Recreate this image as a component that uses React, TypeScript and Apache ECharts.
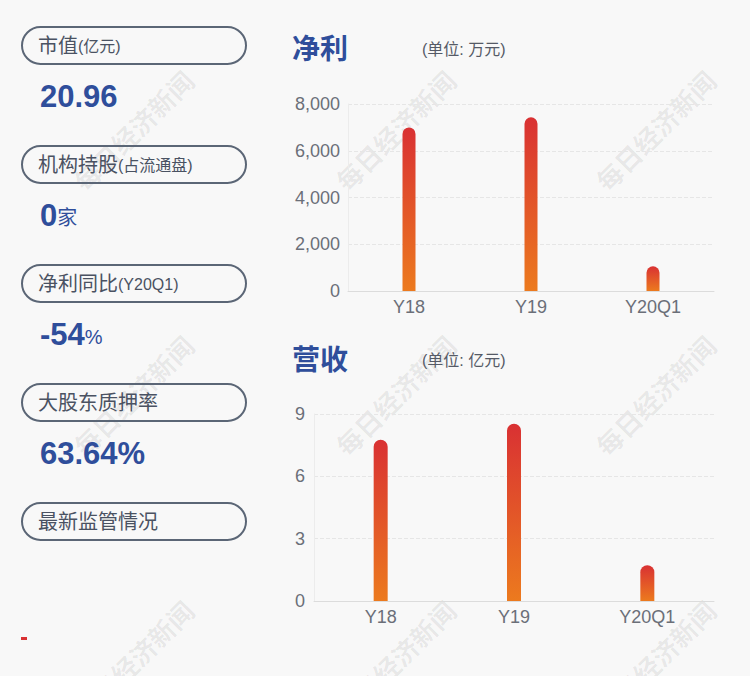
import React, { useEffect, useRef } from "react";
import * as echarts from "echarts";

const categories = ["Y18", "Y19", "Y20Q1"];
const profitValues = [7000, 7430, 1060];
const revenueValues = [7.76, 8.53, 1.72];
const profitTicks = { min: 0, max: 8000, interval: 2000 };
const revenueTicks = { min: 0, max: 9, interval: 3 };

const boxLabels = [
  { main: "市值", sub: "(亿元)" },
  { main: "机构持股", sub: "(占流通盘)" },
  { main: "净利同比", sub: "(Y20Q1)" },
  { main: "大股东质押率", sub: "" },
  { main: "最新监管情况", sub: "" },
];
const boxValues = [
  { big: "20.96", small: "" },
  { big: "0", small: "家" },
  { big: "-54", small: "%" },
  { big: "63.64%", small: "" },
];

const FONT = "'Liberation Sans', 'Noto Sans CJK SC', sans-serif";
const BLUE = "#2f4e9b";

export default function App() {
  const ref = useRef<HTMLDivElement>(null);
  useEffect(() => {
    if (!ref.current) return;
    const chart = echarts.init(ref.current, null, { renderer: "svg" });
    const barColor = new echarts.graphic.LinearGradient(0, 0, 0, 1, [
      { offset: 0, color: "#d93133" },
      { offset: 1, color: "#ec7a1e" },
    ]);
    const graphics: any[] = [];
    // watermarks
    const wmX = [133, 395, 655];
    const wmY = [130, 395, 660];
    wmY.forEach((y) =>
      wmX.forEach((x) => {
        graphics.push({
          type: "text",
          x,
          y,
          rotation: Math.PI / 4,
          z: 0,
          style: {
            text: "每日经济新闻",
            font: `bold 26px 'Noto Sans CJK SC'`,
            fill: "rgba(0,0,0,0.07)",
            align: "center",
            verticalAlign: "middle",
          },
        });
      })
    );
    const boxTop = [27, 146, 265, 384, 503];
    boxLabels.forEach((b, i) => {
      graphics.push({
        type: "rect",
        shape: { x: 22, y: boxTop[i], width: 224, height: 37, r: 18.5 },
        style: { fill: "none", stroke: "#5b6676", lineWidth: 2 },
        z: 5,
      });
      graphics.push({
        type: "text",
        x: 38,
        y: boxTop[i] + 19,
        z: 5,
        style: {
          text: b.sub ? `{m|${b.main}}{s|${b.sub}}` : `{m|${b.main}}`,
          verticalAlign: "middle",
          rich: {
            m: { fontSize: 20, fontFamily: FONT, fill: "#4a5262" },
            s: { fontSize: 16, fontFamily: FONT, fill: "#4a5262" },
          },
        },
      });
    });
    const valY = [96, 215, 334, 453];
    boxValues.forEach((v, i) => {
      graphics.push({
        type: "text",
        x: 40,
        y: valY[i],
        z: 5,
        style: {
          text: v.small ? `{b|${v.big}}{s|${v.small}}` : `{b|${v.big}}`,
          verticalAlign: "middle",
          rich: {
            b: { fontSize: 31, fontWeight: "bold", fontFamily: FONT, fill: BLUE },
            s: { fontSize: 20, fontFamily: FONT, fill: BLUE, padding: [6, 0, 0, 0] },
          },
        },
      });
    });
    graphics.push({
      type: "rect",
      shape: { x: 21, y: 637, width: 6, height: 3 },
      style: { fill: "#d93133" },
      z: 5,
    });
    const titles = [
      { t: "净利", u: "(单位: 万元)", y: 49 },
      { t: "营收", u: "(单位: 亿元)", y: 360 },
    ];
    titles.forEach((tt) => {
      graphics.push({
        type: "text",
        x: 292,
        y: tt.y,
        z: 5,
        style: {
          text: tt.t,
          font: `bold 28px ${FONT}`,
          fill: BLUE,
          verticalAlign: "middle",
        },
      });
      graphics.push({
        type: "text",
        x: 422,
        y: tt.y,
        z: 5,
        style: {
          text: tt.u,
          font: `16px ${FONT}`,
          fill: "#555a66",
          verticalAlign: "middle",
        },
      });
    });

    const axisLabelStyle = { color: "#6b6f78", fontSize: 18, fontFamily: FONT };
    const yCommon = {
      type: "value" as const,
      axisLine: { show: true, lineStyle: { color: "#ececec" } },
      axisTick: { show: false },
      splitLine: { lineStyle: { color: "#e6e6e6", type: "dashed" as const } },
    };
    const xCommon = {
      type: "category" as const,
      data: categories,
      axisLine: { lineStyle: { color: "#dcdcdc" } },
      axisTick: { show: false },
      axisLabel: { ...axisLabelStyle, margin: 7 },
    };
    chart.setOption({
      animation: false,
      backgroundColor: "#f8f8f8",
      graphic: graphics,
      grid: [
        { left: 348, right: 36, top: 104, height: 187 },
        { left: 314, right: 36, top: 414, height: 187 },
      ],
      xAxis: [
        { ...xCommon, gridIndex: 0 },
        { ...xCommon, gridIndex: 1 },
      ],
      yAxis: [
        {
          ...yCommon,
          gridIndex: 0,
          ...profitTicks,
          axisLabel: {
            ...axisLabelStyle,
            margin: 8,
            formatter: (v: number) => v.toLocaleString("en-US"),
          },
        },
        {
          ...yCommon,
          gridIndex: 1,
          ...revenueTicks,
          axisLabel: { ...axisLabelStyle, margin: 9 },
        },
      ],
      series: [
        {
          type: "bar",
          xAxisIndex: 0,
          yAxisIndex: 0,
          data: profitValues,
          barWidth: 13,
          itemStyle: { color: barColor, borderRadius: [7, 7, 0, 0] },
        },
        {
          type: "bar",
          xAxisIndex: 1,
          yAxisIndex: 1,
          data: revenueValues,
          barWidth: 14,
          itemStyle: { color: barColor, borderRadius: [7, 7, 0, 0] },
        },
      ],
    });
    return () => chart.dispose();
  }, []);
  return (
    <div
      ref={ref}
      style={{ position: "fixed", left: 0, top: 0, width: 750, height: 676 }}
    />
  );
}
